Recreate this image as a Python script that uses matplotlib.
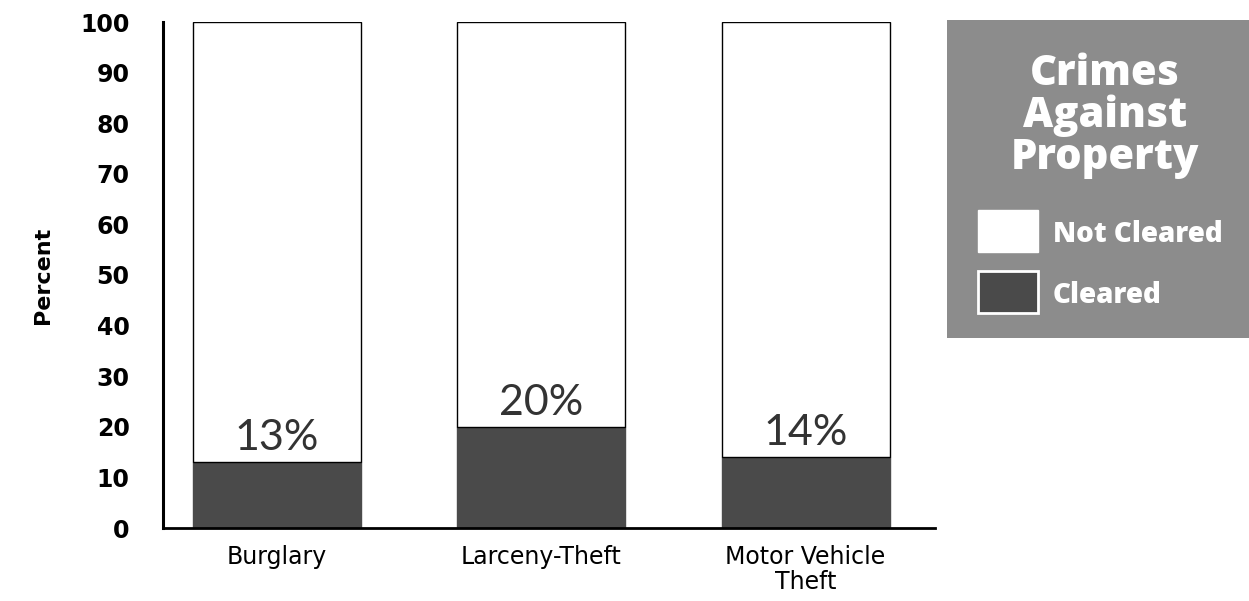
import matplotlib
matplotlib.use("Agg")
import matplotlib.pyplot as plt
from matplotlib.patches import Rectangle
import numpy as np

# data
categories = ["Burglary", "Larceny-Theft", "Motor Vehicle\nTheft"]
cleared = [13, 20, 14]
total = [100, 100, 100]
yticks = [0, 10, 20, 30, 40, 50, 60, 70, 80, 90, 100]

dark = "#4a4a4a"
panel = "#8c8c8c"

fig = plt.figure(figsize=(12.49, 6.01), dpi=100)
ax = fig.add_axes([163/1249, 1-528/601, (935-163)/1249, (528-22)/601])

x = np.arange(len(categories))
not_cleared = [t - c for t, c in zip(total, cleared)]
ax.bar(x, cleared, width=0.636, color=dark, edgecolor=dark, linewidth=1)
ax.bar(x, not_cleared, bottom=cleared, width=0.636, color="white",
       edgecolor="black", linewidth=1)

# value labels above the cleared part
for xi, c in zip(x, cleared):
    ax.text(xi, c + 1, f"{c}%", ha="center", va="bottom", fontsize=31,
            family="Lato", fontweight="normal", color="#333333")

ax.set_xlim(-0.432, 2.49)
ax.set_ylim(0, 100)
ax.set_yticks(yticks)
ax.set_yticklabels([str(v) for v in yticks], fontsize=17, fontweight="bold",
                   family="DejaVu Sans", va="center_baseline")
ax.set_xticks(x)
ax.set_xticklabels(categories, fontsize=17, family="DejaVu Sans",
                   linespacing=1.05)
ax.tick_params(axis="both", length=0)
ax.tick_params(axis="y", pad=24)
ax.tick_params(axis="x", pad=12)
for s in ["top", "right"]:
    ax.spines[s].set_visible(False)
ax.spines["left"].set_linewidth(2.2)
ax.spines["bottom"].set_linewidth(2)
ax.set_ylabel("Percent", fontsize=16, fontweight="bold", family="DejaVu Sans",
              labelpad=20)

# legend panel on the right
lg = fig.add_axes([947/1249, 1-338/601, (1249-947)/1249, (338-20)/601])
lg.set_xlim(0, 302)
lg.set_ylim(318, 0)
lg.set_facecolor(panel)
lg.set_xticks([])
lg.set_yticks([])
for s in lg.spines.values():
    s.set_visible(False)

lg.text(158, 96, "Crimes\nAgainst\nProperty", ha="center", va="center",
        fontsize=30, fontweight="heavy", family="Open Sans", color="white",
        linespacing=1.0)
lg.add_patch(Rectangle((31, 190), 60, 42, facecolor="white", edgecolor="white"))
lg.add_patch(Rectangle((31, 251), 60, 42, facecolor=dark, edgecolor="white",
                       linewidth=2))
lg.text(106, 214, "Not Cleared", ha="left", va="center", fontsize=20,
        fontweight="heavy", family="Open Sans", color="white")
lg.text(106, 276, "Cleared", ha="left", va="center", fontsize=20,
        fontweight="heavy", family="Open Sans", color="white")

fig.savefig("out.png", dpi=100)
